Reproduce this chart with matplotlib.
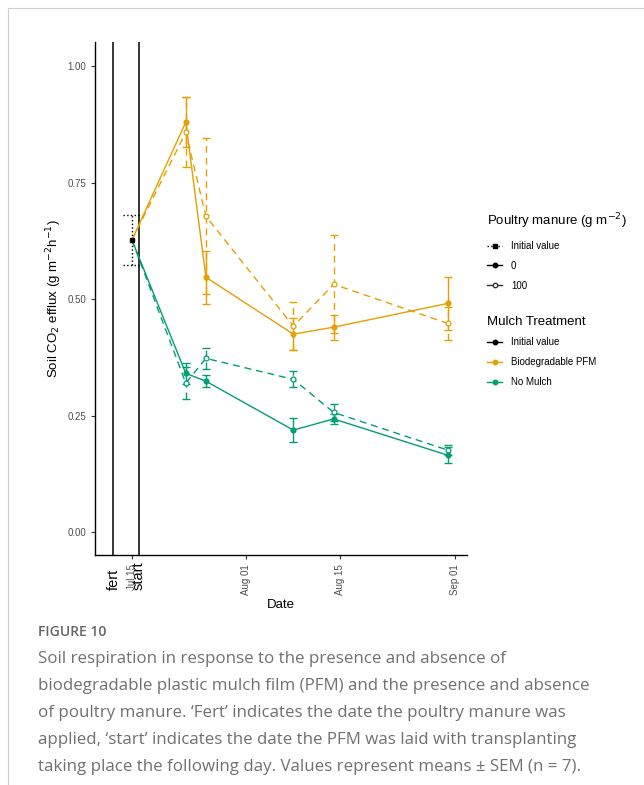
# soil CO2 efflux under biodegradable PFM / no mulch, with and without poultry manure

import pandas as pd
import matplotlib
matplotlib.use("Agg")
import matplotlib.pyplot as plt
import matplotlib.dates as mdates
from matplotlib.lines import Line2D

# sampling dates (after the initial value)
dates = pd.to_datetime(["2021-07-23", "2021-07-26", "2021-08-08", "2021-08-14", "2021-08-31"])

# initial value before treatments
initial_date = pd.to_datetime("2021-07-15")
initial_value = 0.627
initial_sem = 0.054

# means and SEM per treatment
pfm_0 = [0.880, 0.547, 0.425, 0.440, 0.491]
pfm_0_sem = [0.053, 0.057, 0.035, 0.027, 0.057]
pfm_100 = [0.858, 0.678, 0.442, 0.532, 0.448]
pfm_100_sem = [0.075, 0.167, 0.052, 0.105, 0.036]
nomulch_0 = [0.341, 0.324, 0.219, 0.243, 0.165]
nomulch_0_sem = [0.022, 0.013, 0.025, 0.010, 0.017]
nomulch_100 = [0.320, 0.373, 0.328, 0.257, 0.176]
nomulch_100_sem = [0.035, 0.022, 0.017, 0.018, 0.011]

# event lines
fert_date = pd.to_datetime("2021-07-12 06:00")
start_date = pd.to_datetime("2021-07-16")

x_ticks = pd.to_datetime(["2021-07-15", "2021-08-01", "2021-08-15", "2021-09-01"])
y_ticks = [0.00, 0.25, 0.50, 0.75, 1.00]

orange = "#E69F00"
green = "#009E73"
dashed = (0, (5, 3.5))

fig = plt.figure(figsize=(6.44, 7.85), dpi=100)
ax = fig.add_axes([95 / 644, 1 - 555 / 785, 372 / 644, 513 / 785])

# vertical event lines
ax.axvline(fert_date, color="black", lw=1.1)
ax.axvline(start_date, color="black", lw=1.1)

series = [
    (pfm_0, pfm_0_sem, orange, "-", orange),
    (pfm_100, pfm_100_sem, orange, dashed, "white"),
    (nomulch_0, nomulch_0_sem, green, "-", green),
    (nomulch_100, nomulch_100_sem, green, dashed, "white"),
]

for vals, sem, col, ls, face in series:
    # line from the initial value to the first sample
    xs = [initial_date] + list(dates)
    ys = [initial_value] + list(vals)
    ax.plot(xs, ys, color=col, ls=ls, lw=1.0, zorder=3)
    eb = ax.errorbar(dates, vals, yerr=sem, fmt="none", ecolor=col,
                     elinewidth=1.0, capsize=3, capthick=1.0, zorder=3)
    eb[2][0].set_linestyle(ls)
    ax.plot(dates, vals, ls="none", marker="o", ms=3.5, mfc=face, mec=col,
            mew=0.9, zorder=4)

# initial value with dotted error bar
ax.vlines([initial_date], [initial_value - initial_sem], [initial_value + initial_sem],
          colors="black", linestyles=":", lw=1.0, zorder=5)
ax.hlines([initial_value - initial_sem, initial_value + initial_sem],
          initial_date - pd.Timedelta(days=1.3), initial_date + pd.Timedelta(days=1.2),
          colors="black", linestyles=":", lw=1.0, zorder=5)
ax.plot([initial_date], [initial_value], ls="none", marker="s", ms=3.5,
        color="black", zorder=6)

ax.set_xlim(pd.to_datetime("2021-07-09 12:00"), pd.to_datetime("2021-09-02 20:00"))
ax.set_ylim(-0.049, 1.052)
ax.set_xticks(x_ticks)
ax.xaxis.set_major_formatter(mdates.DateFormatter("%b %d"))
ax.set_yticks(y_ticks)
ax.set_yticklabels([f"{v:.2f}" for v in y_ticks])
ax.tick_params(axis="x", labelrotation=90)
ax.tick_params(colors="#333333", labelcolor="#4D4D4D", labelsize=7, length=3, width=0.8)
for s in ["top", "right"]:
    ax.spines[s].set_visible(False)
for s in ["left", "bottom"]:
    ax.spines[s].set_linewidth(1.0)

ax.set_xlabel("Date", fontsize=9.5, family="Liberation Sans", labelpad=3)
ax.set_ylabel("Soil CO$_2$ efflux (g m$^{-2}$h$^{-1}$)", fontsize=9.5,
              family="Liberation Sans", labelpad=2)
for lab in ax.get_xticklabels() + ax.get_yticklabels():
    lab.set_family("Liberation Sans")

# event labels under the axis
ax.text(fert_date, -0.125, "fert", rotation=90, ha="center", va="bottom",
        fontsize=10.5, family="Liberation Sans", clip_on=False)
ax.text(start_date, -0.125, "start", rotation=90, ha="center", va="bottom",
        fontsize=10.5, family="Liberation Sans", clip_on=False)

# legends
poultry_handles = [
    Line2D([0], [0], color="black", ls=":", marker="s", ms=3.5, lw=1.0),
    Line2D([0], [0], color="black", ls="-", marker="o", ms=3.2, lw=1.0),
    Line2D([0], [0], color="#333333", ls="-", marker="o", ms=3.2, mfc="white", lw=1.0),
]
mulch_handles = [
    Line2D([0], [0], color="black", marker="o", ms=3.2, lw=1.0),
    Line2D([0], [0], color=orange, marker="o", ms=3.2, lw=1.0),
    Line2D([0], [0], color=green, marker="o", ms=3.2, lw=1.0),
]
leg1 = fig.legend(poultry_handles, ["Initial value", "0", "100"],
                  title="Poultry manure (g m$^{-2}$)", loc="upper left",
                  bbox_to_anchor=(478 / 644, 1 - 203 / 785), frameon=False,
                  prop={"family": "Liberation Sans", "size": 7},
                  title_fontproperties={"family": "Liberation Sans", "size": 9.5},
                  handlelength=1.6, labelspacing=1.0, handletextpad=0.9)
leg1._legend_box.align = "left"
leg2 = fig.legend(mulch_handles, ["Initial value", "Biodegradable PFM", "No Mulch"],
                  title="Mulch Treatment", loc="upper left",
                  bbox_to_anchor=(478 / 644, 1 - 307 / 785), frameon=False,
                  prop={"family": "Liberation Sans", "size": 7},
                  title_fontproperties={"family": "Liberation Sans", "size": 9.5},
                  handlelength=1.6, labelspacing=1.0, handletextpad=0.9)
leg2._legend_box.align = "left"

# page frame lines
fig.add_artist(Line2D([8 / 644, 1], [1 - 8 / 785, 1 - 8 / 785], color="#d0d0d0", lw=0.8))
fig.add_artist(Line2D([8 / 644, 8 / 644], [0, 1 - 8 / 785], color="#d0d0d0", lw=0.8))

# caption
fig.text(38 / 644, 1 - 632 / 785, "FIGURE 10", fontsize=10, color="#666666",
         family="Open Sans", weight="semibold", va="center")
caption = [
    "Soil respiration in response to the presence and absence of",
    "biodegradable plastic mulch film (PFM) and the presence and absence",
    "of poultry manure. \u2018Fert\u2019 indicates the date the poultry manure was",
    "applied, \u2018start\u2019 indicates the date the PFM was laid with transplanting",
    "taking place the following day. Values represent means \u00b1 SEM (n = 7).",
]
for i, line in enumerate(caption):
    fig.text(38 / 644, 1 - (659 + 27 * i) / 785, line, fontsize=12.2,
             color="#707070", family="Open Sans", va="center")

fig.savefig("out.png", dpi=100)
